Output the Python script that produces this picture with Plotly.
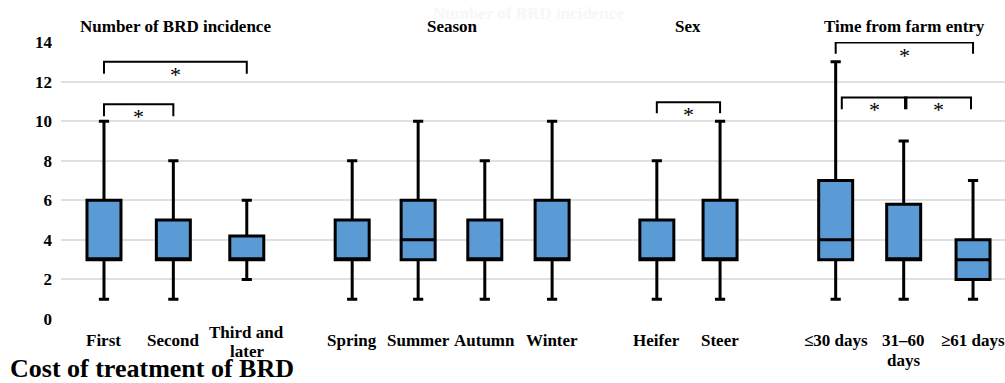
import plotly.graph_objects as go

# Treatment cost summary (five-number summaries per category)
categories = ["First", "Second", "Third and<br>later",
              "Spring", "Summer", "Autumn", "Winter",
              "Heifer", "Steer",
              "≤30 days", "31–60<br>days", "≥61 days"]
lower_whisker = [1, 1, 2, 1, 1, 1, 1, 1, 1, 1, 1, 1]
q1_values = [3, 3, 3, 3, 3, 3, 3, 3, 3, 3, 3, 2]
median_values = [3, 3, 3, 3, 4, 3, 3, 3, 3, 4, 3, 3]
q3_values = [6, 5, 4.2, 5, 6, 5, 6, 5, 6, 7, 5.8, 4]
upper_whisker = [10, 8, 6, 8, 10, 8, 10, 8, 10, 13, 9, 7]

group_titles = ["Number of BRD incidence", "Season", "Sex", "Time from farm entry"]
group_members = [[0, 1, 2], [3, 4, 5, 6], [7, 8], [9, 10, 11]]

# significant pairwise differences: (left index, right index, bracket top, leg end)
sig_pairs = [(0, 2, 13.0, 12.4), (0, 1, 10.85, 10.25), (7, 8, 10.95, 10.4),
             (9, 11, 13.97, 13.4), (9, 10, 11.2, 10.6), (10, 11, 11.2, 10.6)]

y_ticks = [0, 2, 4, 6, 8, 10, 12, 14]

# horizontal layout of the categories along the x axis
xpos = [0, 1.02, 2.1, 3.65, 4.62, 5.6, 6.59, 8.13, 9.06, 10.76, 11.76, 12.78]
bracket_inset = {(9, 10): (0.09, -0.04), (10, 11): (0.02, 0.03)}

SERIF = "Liberation Serif, Times New Roman, serif"
FILL = "#5B9BD5"

fig = go.Figure()

fig.add_trace(go.Box(
    x=xpos,
    q1=q1_values, median=median_values, q3=q3_values,
    lowerfence=lower_whisker, upperfence=upper_whisker,
    width=0.5, whiskerwidth=0.3,
    fillcolor=FILL,
    line=dict(color="black", width=3),
    boxpoints=False, showlegend=False, hoverinfo="skip",
))

bx, by = [], []
for a, b, top, leg in sig_pairs:
    ia, ib = bracket_inset.get((a, b), (0, 0))
    xa, xb = xpos[a] + ia, xpos[b] - ib
    bx += [xa, xa, xb, xb, None]
    by += [leg, top, top, leg, None]
fig.add_trace(go.Scatter(x=bx, y=by, mode="lines",
                         line=dict(color="black", width=2),
                         showlegend=False, hoverinfo="skip", cliponaxis=False))

annotations = []
for a, b, top, leg in sig_pairs:
    ia, ib = bracket_inset.get((a, b), (0, 0))
    mid = (xpos[a] + ia + xpos[b] - ib) / 2
    annotations.append(dict(x=mid, y=top, xref="x", yref="y", text="*",
                            showarrow=False, yanchor="top", yshift=2,
                            font=dict(family=SERIF, size=22, color="black")))

# category labels under the boxes, one annotation per text line
for i, label in enumerate(categories):
    lines = label.split("<br>")
    first_shift = -21
    gap = 20
    if label.startswith("Third"):
        first_shift, gap = -13, 19
    for k, line in enumerate(lines):
        annotations.append(dict(x=xpos[i], y=0, xref="x", yref="y", text=f"<b>{line}</b>",
                                showarrow=False, yanchor="middle",
                                yshift=first_shift - k * gap,
                                font=dict(family=SERIF, size=17, color="black")))

for title, members in zip(group_titles, group_members):
    cx = (xpos[members[0]] + xpos[members[-1]]) / 2
    annotations.append(dict(x=cx, y=1, xref="x", yref="paper", text=f"<b>{title}</b>",
                            showarrow=False, yanchor="middle", yshift=16,
                            font=dict(family=SERIF, size=17, color="black")))

# faint duplicate heading carried in the figure panel
annotations.append(dict(x=6.24, y=1, xref="x", yref="paper",
                        text=f"<b>{group_titles[0]}</b>",
                        showarrow=False, yanchor="middle", yshift=29,
                        font=dict(family=SERIF, size=17, color="#f7f7f7")))

annotations.append(dict(x=0, y=0, xref="paper", yref="paper",
                        text="<b>Cost of treatment of BRD</b>",
                        showarrow=False, xanchor="left", yanchor="middle",
                        xshift=-53, yshift=-49,
                        font=dict(family=SERIF, size=26, color="black")))

fig.update_layout(
    width=1005, height=383,
    margin=dict(l=61, r=0, t=42, b=64),
    paper_bgcolor="white", plot_bgcolor="white",
    boxmode="overlay",
    annotations=annotations,
    xaxis=dict(range=[-0.632, 13.25], showgrid=False, zeroline=False,
               showticklabels=False, showline=False),
    yaxis=dict(range=[0, 14], tickvals=y_ticks, showgrid=True,
               gridcolor="#e0e0e0", gridwidth=2, zeroline=False, showline=False,
               ticks="", ticklabelstandoff=8,
               tickfont=dict(family=SERIF, size=17, color="black", weight="bold")),
)

fig.write_html("out.html")
